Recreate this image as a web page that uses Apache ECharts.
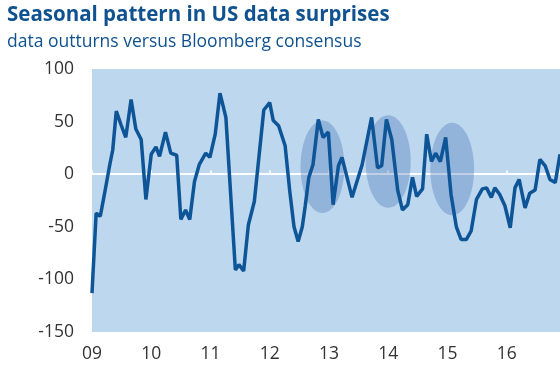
<!DOCTYPE html>
<html>
<head>
<meta charset="utf-8">
<script src="https://cdn.jsdelivr.net/npm/echarts@6/dist/echarts.min.js"></script>
<style>html,body{margin:0;padding:0;background:#fff}#c{width:560px;height:367px}</style>
</head>
<body>
<div id="c"></div>
<script>
// dates as decimal years
var dates = [2009.00,2009.07,2009.14,2009.21,2009.30,2009.35,2009.41,2009.49,2009.57,2009.66,2009.74,2009.83,2009.91,
2010.00,2010.08,2010.14,2010.24,2010.33,2010.43,2010.50,2010.58,2010.65,2010.73,2010.81,2010.92,2010.99,
2011.08,2011.16,2011.26,2011.42,2011.48,2011.56,2011.64,2011.74,2011.90,
2012.00,2012.06,2012.15,2012.26,2012.34,2012.41,2012.48,2012.55,2012.60,2012.66,2012.73,2012.82,2012.90,2012.99,
2013.07,2013.16,2013.22,2013.39,2013.56,2013.72,2013.82,2013.89,2013.97,
2014.06,2014.16,2014.24,2014.33,2014.41,2014.48,2014.58,2014.65,2014.73,2014.80,2014.88,2014.97,
2015.06,2015.15,2015.23,2015.32,2015.40,2015.49,2015.59,2015.66,2015.74,2015.80,2015.88,2015.97,
2016.06,2016.14,2016.21,2016.31,2016.39,2016.48,2016.56,2016.65,2016.73,2016.82,2016.90];
var surprises = [-113,-37,-40,-19,9,23,60,47,35,71,43,33,-24,
19,26,17,40,20,18,-43,-34,-43,-7,9,20,16,
38,77,54,-91,-86,-92,-48,-26,61,
68,51,46,27,-17,-50,-64,-50,-30,-3,9,52,35,40,
-29,8,16,-22,9,54,6,8,52,
33,-15,-34,-29,-3,-21,-14,38,12,20,12,35,
-19,-50,-62,-62,-54,-24,-14,-13,-22,-13,-19,-30,
-51,-13,-5,-32,-18,-15,14,8,-5,-8,19];
var yTicks = [-150,-100,-50,0,50,100];
var xYears = [2009,2010,2011,2012,2013,2014,2015,2016];
// highlighted periods: centre date, centre value, half-width (years), half-height (value units)
var highlightDates = [2012.89, 2014.00, 2015.08];
var highlightValues = [7, 12, 5];
var highlightHalfWidth = [0.37, 0.38, 0.37];
var highlightHalfHeight = [44, 44, 44];

var lineData = dates.map(function(d,i){return [d, surprises[i]];});
var ellData = highlightDates.map(function(d,i){return [d, highlightValues[i], highlightHalfWidth[i], highlightHalfHeight[i]];});

var chart = echarts.init(document.getElementById('c'));
var fam = '"Open Sans", "Noto Sans", sans-serif';
chart.setOption({
  animation: false,
  backgroundColor: '#ffffff',
  textStyle: {fontFamily: fam},
  title: {
    text: 'Seasonal pattern in US data surprises',
    subtext: 'data outturns versus Bloomberg consensus',
    left: 2, top: 0,
    itemGap: 7,
    textStyle: {fontFamily: fam, fontSize: 20.5, fontWeight: 'bold', color: '#10528f'},
    subtextStyle: {fontFamily: fam, fontSize: 17.5, color: '#10528f'}
  },
  grid: {left: 92, right: 0, top: 69, bottom: 35, show: true, backgroundColor: '#bdd7ee', borderWidth: 0},
  xAxis: [{
    type: 'value', min: xYears[0], max: 2016.9, interval: 1,
    axisLine: {show: true, onZero: true, lineStyle: {color: '#ffffff', width: 2}},
    axisTick: {show: true, inside: true, length: 4, lineStyle: {color: '#ffffff', width: 1.5}},
    axisLabel: {show: false}, splitLine: {show: false}
  }, {
    type: 'value', min: xYears[0], max: 2016.9, interval: 1, position: 'bottom',
    axisLine: {show: false, onZero: false}, axisTick: {show: false}, splitLine: {show: false},
    axisLabel: {show: true, margin: 13, color: '#333333', fontSize: 17.5, fontFamily: fam, showMaxLabel: false,
      formatter: function(v){ if (xYears.indexOf(v) < 0) return ''; var s = String(v % 100); return s.length < 2 ? '0' + s : s; }}
  }],
  yAxis: {
    type: 'value', min: yTicks[0], max: yTicks[yTicks.length-1], interval: 50,
    axisLine: {show: false}, axisTick: {show: false}, splitLine: {show: false},
    axisLabel: {margin: 18, color: '#333333', fontSize: 17.5, fontFamily: fam}
  },
  series: [{
    type: 'custom', xAxisIndex: 0, yAxisIndex: 0, data: ellData, z: 3,
    encode: {x: 0, y: 1},
    renderItem: function(params, api){
      var c = api.coord([api.value(0), api.value(1)]);
      var s = api.size([api.value(2), api.value(3)]);
      return {type: 'ellipse', shape: {cx: c[0], cy: c[1], rx: s[0], ry: s[1]}, style: {fill: 'rgba(60,110,180,0.33)'}};
    }
  }, {
    type: 'line', xAxisIndex: 0, yAxisIndex: 0, data: lineData, z: 4,
    symbol: 'none', lineStyle: {color: '#0d5597', width: 3.5}
  }]
});
</script>
</body>
</html>
